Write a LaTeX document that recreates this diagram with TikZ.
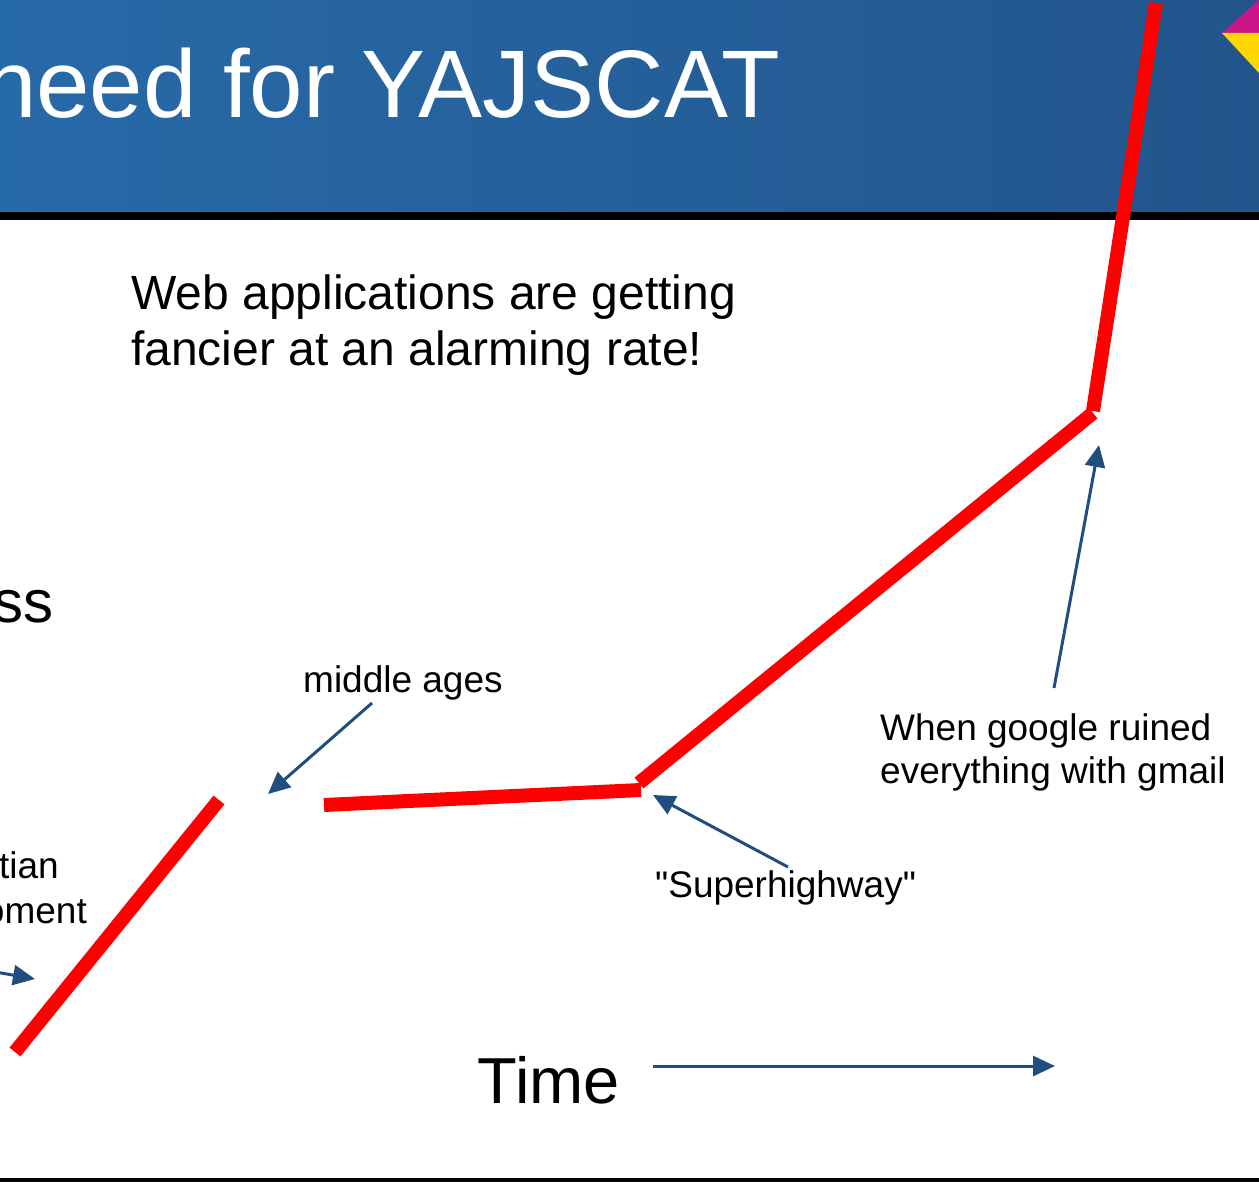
\documentclass[tikz,border=0pt]{standalone}
\usepackage{fontspec}
\setmainfont{Liberation Sans}[Ligatures=TeXOff]
\usetikzlibrary{arrows.meta}
\definecolor{bannerL}{RGB}{39,106,168}
\definecolor{bannerR}{RGB}{34,85,140}
\definecolor{arrowblue}{RGB}{33,78,128}
\definecolor{magenta}{RGB}{204,20,137}
\definecolor{gold}{RGB}{255,214,0}
\begin{document}
\begin{tikzpicture}[x=1pt,y=-1pt,trend/.style={red, line width=14pt}]
    \tikzset{pointer/.style={draw=arrowblue, line width=3pt, -{Triangle[length=22pt,width=20pt]}}}
    \tikzset{tag/.style={inner sep=0pt, align=left, font=\fontsize{37}{43}\selectfont}}
    \useasboundingbox (0,0) rectangle (1259,1182);
    \clip (0,0) rectangle (1259,1182);
    % banner
    \shade[left color=bannerL, right color=bannerR] (0,0) rectangle (1259,212);
    \fill[black] (0,212) rectangle (1259,220);
    \fill[black] (0,1178) rectangle (1259,1182);
    \fill[magenta] (1222,33) -- (1259,0) -- (1259,33) -- cycle;
    \fill[gold] (1222,33) -- (1259,33) -- (1259,73) -- cycle;
    \node[anchor=base east, inner sep=0pt, white, font=\fontsize{96}{100}\selectfont] (title) at (780,118) {need for YAJSCAT};

    % multi-line nodes sit on their last baseline
    \node[tag, anchor=base west, font=\fontsize{48}{56}\selectfont] (claim) at (131,366) {Web applications are getting\\fancier at an alarming rate!};
    \node[inner sep=0pt, anchor=base east, font=\fontsize{60}{70}\selectfont] (yaxis) at (54,622) {ss};
    \node[inner sep=0pt, anchor=base east, font=\fontsize{65}{70}\selectfont] (xaxis) at (620,1103) {Time};
    \node[tag, anchor=base east] (early1) at (59,878) {tian};
    \node[tag, anchor=base east] (early2) at (87,923) {oment};
    \node[tag, anchor=base west] (midage) at (303,692) {middle ages};
    \node[tag, anchor=base west] (highway) at (655,897) {"Superhighway"};
    \node[tag, anchor=base west] (gmail) at (880,783) {When google ruined\\everything with gmail};

    % the red trend
    \coordinate (t1) at (15,1052); \coordinate (t2) at (219,800);
    \coordinate (t3) at (324,805); \coordinate (t4) at (641,790);
    \coordinate (t5) at (639,783); \coordinate (t6) at (1093,413);
    \coordinate (t7) at (1093,411); \coordinate (t8) at (1156,3);
    \draw[trend] (t1) -- (t2);
    \draw[trend] (t3) -- (t4);
    \draw[trend] (t5) -- (t6);
    \draw[trend] (t7) -- (t8);

    % pointers
    \coordinate (p0) at (-10,971);   \coordinate (q0) at (35,979);
    \coordinate (p1) at (372,703);   \coordinate (q1) at (268,794);
    \coordinate (p2) at (788,867);   \coordinate (q2) at (653,795);
    \coordinate (p3) at (1054,688);  \coordinate (q3) at (1099,445);
    \coordinate (p4) at (653,1066);  \coordinate (q4) at (1055,1066);
    \draw[pointer] (p0) -- (q0);
    \draw[pointer] (p1) -- (q1);
    \draw[pointer] (p2) -- (q2);
    \draw[pointer] (p3) -- (q3);
    \draw[pointer] (p4) -- (q4);
\end{tikzpicture}
\end{document}
